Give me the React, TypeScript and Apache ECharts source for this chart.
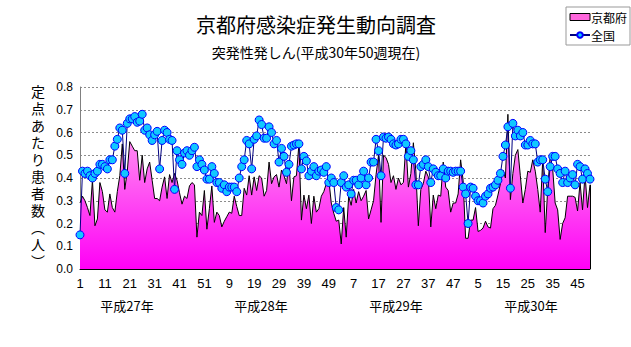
import React, { useEffect, useRef } from "react";
import * as echarts from "echarts";

const chartTitle = "京都府感染症発生動向調査";
const chartSubtitle = "突発性発しん(平成30年50週現在)";
const yAxisName = ["定", "点", "あ", "た", "り", "患", "者", "数", "︵", "人", "︶"];
const yearNames = ["平成27年", "平成28年", "平成29年", "平成30年"];
const weeksPerYear = [52, 52, 52, 50];
const yTicks = [0, 0.1, 0.2, 0.3, 0.4, 0.5, 0.6, 0.7, 0.8];

const kyoto2015 = [
  0.29, 0.32, 0.30, 0.27, 0.235, 0.39, 0.19, 0.22, 0.38, 0.34,
  0.26, 0.25, 0.33, 0.27, 0.25, 0.34, 0.41, 0.55, 0.35, 0.43,
  0.56, 0.54, 0.52, 0.52, 0.39, 0.50, 0.38, 0.44, 0.47, 0.39,
  0.31, 0.31, 0.30, 0.36, 0.405, 0.31, 0.415, 0.38, 0.42, 0.39,
  0.335, 0.285, 0.32, 0.31, 0.365, 0.38, 0.37, 0.14, 0.25, 0.235,
  0.345, 0.175,
];
const kyoto2016 = [
  0.265, 0.365, 0.205, 0.25, 0.235, 0.185, 0.21, 0.23, 0.25, 0.245,
  0.32, 0.275, 0.235, 0.235, 0.355, 0.325, 0.41, 0.325, 0.405, 0.345,
  0.41, 0.40, 0.32, 0.345, 0.47, 0.375, 0.405, 0.415, 0.36, 0.435,
  0.41, 0.375, 0.465, 0.30, 0.405, 0.41, 0.55, 0.215, 0.325, 0.265,
  0.325, 0.20, 0.32, 0.25, 0.265, 0.32, 0.34, 0.375, 0.395, 0.29,
  0.245, 0.21,
];
const kyoto2017 = [
  0.215, 0.11, 0.27, 0.14, 0.32, 0.28, 0.35, 0.29, 0.34, 0.30,
  0.32, 0.345, 0.22, 0.26, 0.30, 0.415, 0.50, 0.205, 0.50, 0.49,
  0.46, 0.38, 0.41, 0.35, 0.40, 0.37, 0.38, 0.55, 0.36, 0.42,
  0.555, 0.43, 0.19, 0.35, 0.375, 0.43, 0.405, 0.185, 0.325, 0.265,
  0.325, 0.32, 0.47, 0.36, 0.345, 0.25, 0.29, 0.29, 0.33, 0.48,
  0.39, 0.135,
];
const kyoto2018 = [
  0.135, 0.215, 0.215, 0.27, 0.165, 0.17, 0.18, 0.21, 0.185, 0.18,
  0.265, 0.28, 0.325, 0.375, 0.435, 0.40, 0.68, 0.305, 0.42, 0.50,
  0.525, 0.41, 0.29, 0.35, 0.43, 0.425, 0.48, 0.43, 0.35, 0.25,
  0.48, 0.16, 0.35, 0.50, 0.44, 0.29, 0.26, 0.13, 0.20, 0.225,
  0.32, 0.32, 0.32, 0.315, 0.255, 0.38, 0.26, 0.415, 0.27, 0.37,
];

const national2015 = [
  0.15, 0.43, 0.42, 0.43, 0.41, 0.40, 0.42, 0.43, 0.46, 0.46,
  0.45, 0.44, 0.48, 0.48, 0.54, 0.57, 0.62, 0.61, 0.42, 0.64,
  0.66, 0.66, 0.67, 0.645, 0.65, 0.68, 0.61, 0.62, 0.59, 0.565,
  0.59, 0.605, 0.44, 0.565, 0.61, 0.60, 0.57, 0.565, 0.35, 0.52,
  0.48, 0.46, 0.51, 0.52, 0.50, 0.52, 0.535, 0.45, 0.48, 0.46,
  0.435, 0.395,
];
const national2016 = [
  0.395, 0.45, 0.42, 0.38, 0.38, 0.355, 0.37, 0.34, 0.36, 0.36,
  0.36, 0.34, 0.40, 0.45, 0.48, 0.565, 0.55, 0.44, 0.57, 0.585,
  0.655, 0.635, 0.575, 0.575, 0.625, 0.60, 0.55, 0.565, 0.47, 0.53,
  0.495, 0.425, 0.46, 0.54, 0.545, 0.55, 0.55, 0.44, 0.495, 0.475,
  0.41, 0.43, 0.45, 0.41, 0.43, 0.435, 0.425, 0.45, 0.38, 0.40,
  0.38, 0.27,
];
const national2017 = [
  0.26, 0.38, 0.41, 0.36, 0.37, 0.33, 0.39, 0.39, 0.37, 0.40,
  0.43, 0.37, 0.40, 0.47, 0.47, 0.57, 0.52, 0.41, 0.58, 0.575,
  0.58, 0.57, 0.55, 0.545, 0.55, 0.57, 0.57, 0.55, 0.495, 0.52,
  0.48, 0.37, 0.37, 0.45, 0.46, 0.48, 0.45, 0.38, 0.44, 0.425,
  0.41, 0.41, 0.44, 0.40, 0.43, 0.43, 0.425, 0.43, 0.43, 0.43,
  0.36, 0.33,
];
const national2018 = [
  0.20, 0.36, 0.355, 0.32, 0.30, 0.30, 0.29, 0.32, 0.33, 0.355,
  0.36, 0.37, 0.39, 0.42, 0.495, 0.545, 0.625, 0.355, 0.64, 0.585,
  0.61, 0.585, 0.60, 0.545, 0.545, 0.565, 0.55, 0.55, 0.47, 0.48,
  0.48, 0.395, 0.34, 0.45, 0.495, 0.495, 0.44, 0.42, 0.38, 0.43,
  0.38, 0.40, 0.415, 0.37, 0.46, 0.45, 0.395, 0.44, 0.42, 0.395,
];

const JP = "'Noto Sans CJK JP', 'Noto Sans', sans-serif";

export default function App() {
  const ref = useRef<HTMLDivElement>(null);

  useEffect(() => {
    if (!ref.current) return;
    const chart = echarts.init(ref.current, null, { renderer: "svg" });

    const categories: string[] = [];
    weeksPerYear.forEach((n) => {
      for (let w = 1; w <= n; w++) categories.push(String(w));
    });
    const kyoto = [...kyoto2015, ...kyoto2016, ...kyoto2017, ...kyoto2018];
    const national = [...national2015, ...national2016, ...national2017, ...national2018];
    const lastIdx = kyoto.length - 1;

    const gridTop = 87;
    const gridBottomPx = 269;

    chart.setOption({
      animation: false,
      backgroundColor: "#ffffff",
      title: [
        {
          text: chartTitle,
          left: 311,
          top: 9,
          textAlign: "center",
          textStyle: { fontSize: 20, fontWeight: "normal", color: "#000", fontFamily: JP },
        },
        {
          text: chartSubtitle,
          left: 311,
          top: 40,
          textAlign: "center",
          textStyle: { fontSize: 14, fontWeight: "normal", color: "#000", fontFamily: JP },
        },
      ],
      legend: {
        orient: "vertical",
        left: 566,
        top: 7,
        padding: [4, 3, 4, 3],
        itemGap: 6,
        itemWidth: 20,
        itemHeight: 7,
        borderColor: "#999",
        borderWidth: 1,
        textStyle: { fontSize: 12, color: "#000", fontFamily: JP, padding: [0, 0, 0, -4] },
        data: [
          {
            name: "京都府",
            icon: "rect",
            itemStyle: { color: "#ff66dd", borderColor: "#000", borderWidth: 1 },
          },
          { name: "全国" },
        ],
      },
      grid: { left: 80, right: 41, top: gridTop, bottom: 347 - gridBottomPx, containLabel: false },
      xAxis: {
        type: "category",
        data: categories,
        boundaryGap: false,
        axisLine: { lineStyle: { color: "#000", width: 1 } },
        axisTick: { inside: true, length: 4, interval: 4, lineStyle: { color: "#000" } },
        axisLabel: {
          interval: 9,
          color: "#000",
          fontSize: 13,
          fontFamily: "'Liberation Sans Narrow', 'Liberation Sans', sans-serif",
          margin: 8,
        },
        splitLine: { show: false },
      },
      yAxis: {
        type: "value",
        min: yTicks[0],
        max: yTicks[yTicks.length - 1],
        interval: 0.1,
        axisLine: { show: true, lineStyle: { color: "#808080" } },
        axisTick: { show: false },
        axisLabel: {
          formatter: (v: number) => v.toFixed(1),
          color: "#000",
          fontSize: 12,
          fontFamily: "'Liberation Sans', sans-serif",
          margin: 7,
        },
        splitLine: { lineStyle: { color: "#8c8c8c", type: [2, 2], width: 1 } },
      },
      graphic: [
        ...yAxisName.map((ch, k) => ({
          type: "text",
          x: 38,
          y: 83 + k * 17,
          style: {
            text: ch,
            fontSize: 14,
            lineHeight: 16,
            fontFamily: JP,
            fill: "#000",
            align: "center",
          },
        })),
        ...yearNames.map((name, k) => ({
          type: "text",
          x: [127, 261, 396, 531][k],
          y: 299,
          style: { text: name, fontSize: 13, fontFamily: JP, fill: "#000", align: "center" },
        })),
      ],
      series: [
        {
          name: "京都府",
          type: "line",
          data: kyoto,
          symbol: "none",
          showSymbol: false,
          itemStyle: { color: "#ff66dd" },
          lineStyle: { color: "#000", width: 1 },
          areaStyle: {
            opacity: 1,
            color: new echarts.graphic.LinearGradient(
              0, gridTop, 0, gridBottomPx,
              [
                { offset: 0, color: "#ffc4ef" },
                { offset: 1, color: "#ff00f6" },
              ],
              true
            ),
          },
          markLine: {
            silent: true,
            symbol: ["none", "none"],
            label: { show: false },
            lineStyle: { color: "#000", width: 1, type: "solid" },
            data: [[{ coord: [lastIdx, 0] }, { coord: [lastIdx, kyoto[lastIdx]] }]],
          },
          z: 2,
        },
        {
          name: "全国",
          type: "line",
          data: national,
          symbol: "circle",
          symbolSize: 8,
          showSymbol: true,
          showAllSymbol: true,
          lineStyle: { color: "#000080", width: 1 },
          itemStyle: { color: "#11c8ff", borderColor: "#0000ff", borderWidth: 1 },
          z: 3,
        },
      ],
    });

    return () => chart.dispose();
  }, []);

  return (
    <div
      ref={ref}
      style={{ position: "absolute", left: 0, top: 0, width: 631, height: 347 }}
    />
  );
}
